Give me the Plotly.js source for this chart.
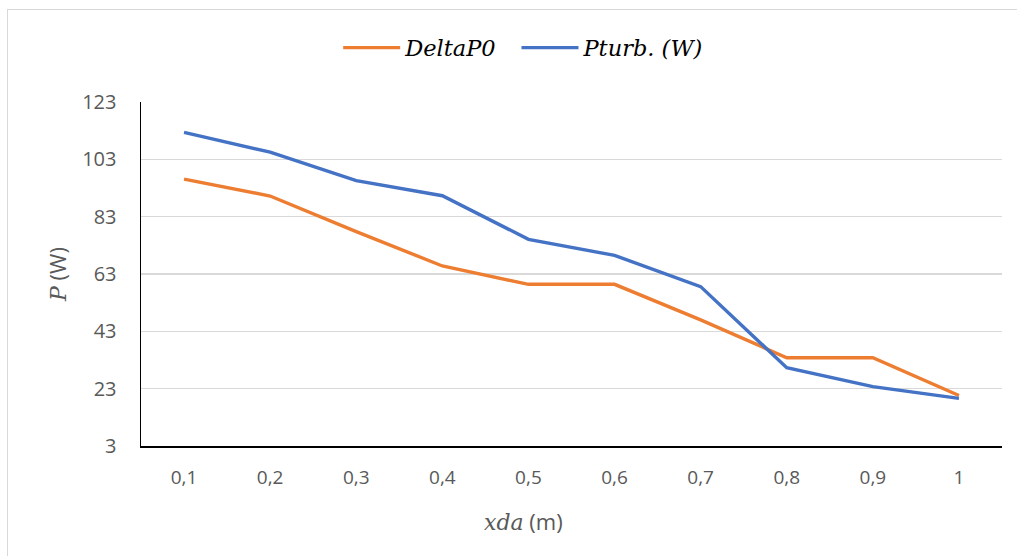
<!DOCTYPE html>
<html>
<head>
<meta charset="utf-8">
<script src="https://cdn.plot.ly/plotly-3.0.1.min.js"></script>
<style>
html,body{margin:0;padding:0;background:#fff;}
#frame{position:absolute;left:7px;top:9px;width:1030px;height:570px;border:1px solid #d9d9d9;box-sizing:border-box;pointer-events:none;z-index:5;}
#chart{position:absolute;left:0;top:0;width:1017px;height:556px;}
</style>
</head>
<body>
<div id="chart"></div>
<div id="frame"></div>
<script>
var categories = ["0,1","0,2","0,3","0,4","0,5","0,6","0,7","0,8","0,9","1"];
var deltaP0 = [96.1, 90.2, 77.8, 65.8, 59.4, 59.4, 47.0, 33.8, 33.8, 20.6];
var pturb = [112.4, 105.5, 95.6, 90.3, 75.1, 69.5, 58.6, 30.3, 23.7, 19.6];
var seriesNames = ["DeltaP0", "Pturb. (W)"];
var yTicks = [3, 23, 43, 63, 83, 103, 123];
var xTitle = "<span style=\"font-family:DejaVu Serif;font-style:italic\">xda</span> (m)";
var yTitle = "<span style=\"font-family:DejaVu Serif;font-style:italic\">P</span> (W)";

var idx = categories.map(function(_, i){ return i; });
var serif = "DejaVu Serif, Liberation Serif, serif";
var sans = "Open Sans, Liberation Sans, sans-serif";

var traces = [
  {x: idx, y: deltaP0, name: seriesNames[0], type: "scatter", mode: "lines",
   legend: "legend", line: {color: "#ED7D31", width: 3.4}},
  {x: idx, y: pturb, name: seriesNames[1], type: "scatter", mode: "lines",
   legend: "legend2", line: {color: "#4472C4", width: 3.4}}
];

var legendFont = {family: serif, size: 22.5, color: "#000", style: "italic"};

var layout = {
  width: 1017, height: 556,
  margin: {l: 141, r: 15, t: 102, b: 110},
  paper_bgcolor: "#fff", plot_bgcolor: "#fff",
  showlegend: true,
  legend: {orientation: "h", x: 0.229, xanchor: "left", y: 1.157, yanchor: "middle",
           font: legendFont, itemwidth: 57, bgcolor: "rgba(0,0,0,0)"},
  legend2: {orientation: "h", x: 0.4361, xanchor: "left", y: 1.157, yanchor: "middle",
           font: legendFont, itemwidth: 57, bgcolor: "rgba(0,0,0,0)"},
  xaxis: {
    range: [-0.5, 9.5], tickmode: "array", tickvals: idx, ticktext: categories,
    showgrid: false, zeroline: false, showline: true, linecolor: "#000", linewidth: 1.5,
    ticks: "", ticklabelstandoff: 14, tickfont: {family: sans, size: 19, color: "#595959"}
  },
  yaxis: {
    range: [3, 123], tickmode: "array", tickvals: yTicks, ticktext: yTicks.map(String),
    showgrid: true, gridcolor: "#d9d9d9", gridwidth: 1.5, zeroline: false,
    showline: true, linecolor: "#000", linewidth: 1.5, ticks: "",
    ticklabelstandoff: 19, tickfont: {family: sans, size: 20, color: "#595959"},
    title: {text: yTitle, font: {family: sans, size: 22, color: "#595959"}, standoff: 9}
  },
  annotations: [
    {text: xTitle, xref: "paper", yref: "paper", x: 0.444, y: -0.218,
     xanchor: "center", yanchor: "middle", showarrow: false,
     font: {family: sans, size: 22, color: "#595959"}}
  ]
};

Plotly.newPlot("chart", traces, layout, {staticPlot: true, displayModeBar: false});
</script>
</body>
</html>
